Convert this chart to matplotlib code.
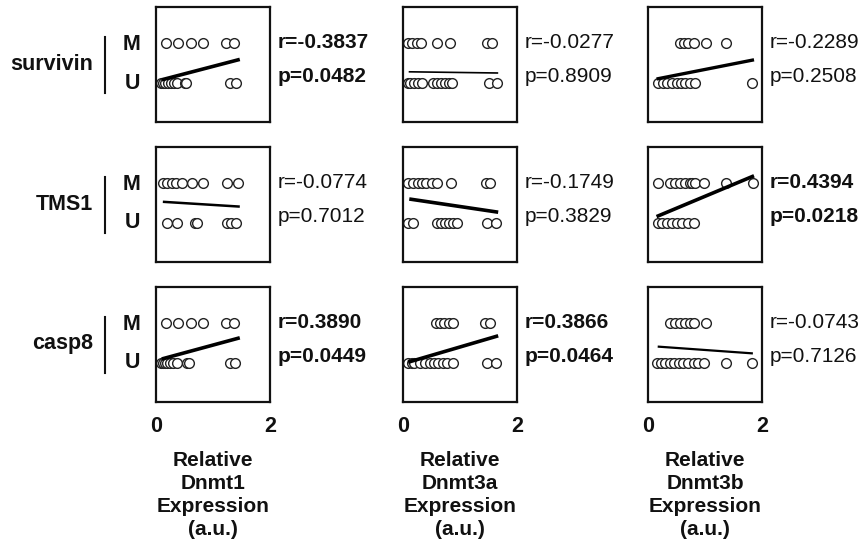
import matplotlib
matplotlib.use("Agg")
import matplotlib.pyplot as plt
from matplotlib.lines import Line2D

plt.rcParams['font.family'] = ['Liberation Sans', 'DejaVu Sans']

genes = ["survivin", "TMS1", "casp8"]
enzymes = ["Dnmt1", "Dnmt3a", "Dnmt3b"]
xticks = [0, 2]

# methylated (M) and unmethylated (U) expression values, per gene x enzyme
survivin_dnmt1_M = [0.175, 0.39, 0.61, 0.83, 1.23, 1.36]
survivin_dnmt1_U = [0.08, 0.12, 0.16, 0.21, 0.26, 0.31, 0.36, 0.5, 0.53, 1.3, 1.4]
survivin_dnmt3a_M = [0.08, 0.15, 0.24, 0.31, 0.59, 0.82, 1.48, 1.56]
survivin_dnmt3a_U = [0.08, 0.13, 0.19, 0.26, 0.34, 0.53, 0.6, 0.67, 0.74, 0.8, 0.86, 1.5, 1.65]
survivin_dnmt3b_M = [0.57, 0.64, 0.71, 0.8, 1.01, 1.36]
survivin_dnmt3b_U = [0.18, 0.26, 0.34, 0.42, 0.5, 0.58, 0.65, 0.73, 0.82, 1.82]

tms1_dnmt1_M = [0.13, 0.2, 0.28, 0.35, 0.45, 0.64, 0.83, 1.24, 1.44]
tms1_dnmt1_U = [0.19, 0.36, 0.68, 0.72, 1.24, 1.32, 1.4]
tms1_dnmt3a_M = [0.09, 0.17, 0.26, 0.34, 0.4, 0.5, 0.6, 0.85, 1.45, 1.53]
tms1_dnmt3a_U = [0.09, 0.18, 0.59, 0.66, 0.73, 0.8, 0.87, 0.95, 1.47, 1.64]
tms1_dnmt3b_M = [0.17, 0.39, 0.48, 0.57, 0.65, 0.74, 0.78, 0.83, 0.98, 1.36, 1.84]
tms1_dnmt3b_U = [0.17, 0.25, 0.33, 0.42, 0.5, 0.6, 0.7, 0.8]

casp8_dnmt1_M = [0.175, 0.39, 0.62, 0.83, 1.23, 1.36]
casp8_dnmt1_U = [0.08, 0.12, 0.16, 0.2, 0.25, 0.3, 0.36, 0.55, 0.58, 1.3, 1.38]
casp8_dnmt3a_M = [0.58, 0.65, 0.72, 0.8, 0.88, 1.44, 1.52]
casp8_dnmt3a_U = [0.09, 0.15, 0.2, 0.3, 0.38, 0.48, 0.55, 0.62, 0.7, 0.78, 0.88, 1.47, 1.64]
casp8_dnmt3b_M = [0.39, 0.48, 0.57, 0.65, 0.74, 0.8, 1.01]
casp8_dnmt3b_U = [0.15, 0.22, 0.3, 0.38, 0.46, 0.55, 0.62, 0.7, 0.8, 0.88, 0.98, 1.36, 1.83]

M_values = [[survivin_dnmt1_M, survivin_dnmt3a_M, survivin_dnmt3b_M],
            [tms1_dnmt1_M, tms1_dnmt3a_M, tms1_dnmt3b_M],
            [casp8_dnmt1_M, casp8_dnmt3a_M, casp8_dnmt3b_M]]
U_values = [[survivin_dnmt1_U, survivin_dnmt3a_U, survivin_dnmt3b_U],
            [tms1_dnmt1_U, tms1_dnmt3a_U, tms1_dnmt3b_U],
            [casp8_dnmt1_U, casp8_dnmt3a_U, casp8_dnmt3b_U]]

# regression line endpoints (x0, y0, x1, y1), y on a 0=U .. 1=M scale
fit_x0 = [[0.10, 0.10, 0.15], [0.12, 0.11, 0.15], [0.10, 0.09, 0.17]]
fit_y0 = [[0.08, 0.28, 0.10], [0.53, 0.60, 0.16], [0.10, 0.02, 0.41]]
fit_x1 = [[1.47, 1.67, 1.86], [1.47, 1.67, 1.86], [1.47, 1.67, 1.84]]
fit_y1 = [[0.59, 0.25, 0.58], [0.41, 0.27, 1.18], [0.63, 0.68, 0.24]]

r_values = [["-0.3837", "-0.0277", "-0.2289"],
            ["-0.0774", "-0.1749", "0.4394"],
            ["0.3890", "0.3866", "-0.0743"]]
p_values = [["0.0482", "0.8909", "0.2508"],
            ["0.7012", "0.3829", "0.0218"],
            ["0.0449", "0.0464", "0.7126"]]
significant = [[True, False, False],
               [False, False, True],
               [True, True, False]]
line_widths = [[2.6, 1.2, 2.4], [1.8, 2.6, 2.6], [2.6, 2.6, 1.6]]

W, H = 861, 548
fig = plt.figure(figsize=(W / 100, H / 100), dpi=100)

col_left = [156, 403, 648]
row_top = [7, 147, 287]
bw, bh = 114, 115
ylim = (-0.975, 1.9)
ink = '#111111'

for i in range(3):
    for j in range(3):
        l = col_left[j] / W
        b = 1 - (row_top[i] + bh) / H
        ax = fig.add_axes([l, b, bw / W, bh / H])
        ax.plot(M_values[i][j], [1] * len(M_values[i][j]), 'o', ms=7.0,
                mfc='white', mec='#222222', mew=1.0, ls='none')
        ax.plot(U_values[i][j], [0] * len(U_values[i][j]), 'o', ms=7.0,
                mfc='white', mec='#222222', mew=1.0, ls='none')
        ax.plot([fit_x0[i][j], fit_x1[i][j]], [fit_y0[i][j], fit_y1[i][j]],
                color='black', lw=line_widths[i][j], solid_capstyle='butt')
        ax.set_xlim(0, 2)
        ax.set_ylim(*ylim)
        ax.set_yticks([])
        for s in ax.spines.values():
            s.set_linewidth(1.6)
            s.set_color(ink)
        if i == 2:
            ax.set_xticks(xticks)
            ax.set_xticklabels([str(t) for t in xticks], fontsize=15.5,
                               fontweight='bold', color=ink)
            ax.tick_params(axis='x', length=0, pad=10)
            ax.set_xlabel("Relative\n" + enzymes[j] + "\nExpression\n(a.u.)",
                          fontsize=15, fontweight='bold', labelpad=10,
                          linespacing=1.28, color=ink)
        else:
            ax.set_xticks([])
        fw = 'bold' if significant[i][j] else 'normal'
        ax.text(1.07, 0.69, "r=" + r_values[i][j], transform=ax.transAxes,
                fontsize=15, fontweight=fw, va='center', ha='left', color=ink)
        ax.text(1.07, 0.40, "p=" + p_values[i][j], transform=ax.transAxes,
                fontsize=15, fontweight=fw, va='center', ha='left', color=ink)

# row labels
for i in range(3):
    yM = row_top[i] + 38
    yU = row_top[i] + 76
    ymid = (yM + yU) / 2
    fig.text(93 / W, 1 - ymid / H, genes[i], fontsize=15.5, fontweight='bold',
             ha='right', va='center', color=ink)
    fig.text(132 / W, 1 - yM / H, "M", fontsize=15.5, fontweight='bold',
             ha='center', va='center', color=ink)
    fig.text(132 / W, 1 - yU / H, "U", fontsize=15.5, fontweight='bold',
             ha='center', va='center', color=ink)
    fig.add_artist(Line2D([105 / W, 105 / W],
                          [1 - (row_top[i] + 30) / H, 1 - (row_top[i] + 86) / H],
                          color=ink, lw=1.5, transform=fig.transFigure))

fig.savefig("out.png", dpi=100, facecolor='white')
